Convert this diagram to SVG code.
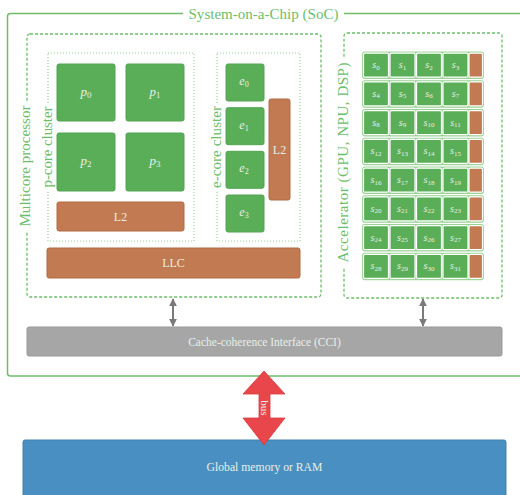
<svg xmlns="http://www.w3.org/2000/svg" width="520" height="495" viewBox="0 0 520 495" font-family="'Liberation Serif', 'DejaVu Serif', serif">
<style>
.lbl{font-family:"Liberation Serif","DejaVu Serif",serif;fill:#6cbd6a;font-size:15px}
.in{font-family:"Liberation Serif","DejaVu Serif",serif;fill:#e6efe6;text-anchor:middle}
.core{fill:#5bae58;stroke:#52a450;stroke-width:1}
.cache{fill:#c27a52;stroke:#b26a44;stroke-width:1}
.dash{fill:none;stroke:#6cbd6a;stroke-width:1.3;stroke-dasharray:3 2}
.dot{fill:none;stroke:#9ad497;stroke-width:1.2;stroke-dasharray:1 2}
.row{fill:#a3d69e;stroke:#8dcb88;stroke-width:0.8}
.cell{fill:#5bae58;stroke:#ffffff;stroke-width:1.2}
.ocell{fill:#c27a52;stroke:#ffffff;stroke-width:1.2}
.s{font-size:10px;font-style:italic}
.sub{font-size:7px;font-style:normal}
</style>
<defs>
<marker id="ah" viewBox="0 0 10 10" refX="9" refY="5" markerWidth="4" markerHeight="4" orient="auto-start-reverse" markerUnits="strokeWidth">
<path d="M0,0 L10,5 L0,10 z" fill="#7a7a7a"/>
</marker>
</defs>
<rect width="520" height="495" fill="#ffffff"/>

<g id="soc">
<rect x="7.5" y="13.5" width="540" height="362.5" rx="3" fill="none" stroke="#6cbd6a" stroke-width="1.5"/>
<rect x="183" y="5" width="161" height="18" fill="#ffffff"/>
<text class="lbl" x="263.5" y="18.5" text-anchor="middle" textLength="150">System-on-a-Chip (SoC)</text>
</g>

<g id="multicore">
<rect class="dash" x="27" y="34" width="294" height="263" rx="3"/>
<rect x="18" y="103" width="15" height="128" fill="#ffffff"/>
<text class="lbl" transform="translate(30,166) rotate(-90)" text-anchor="middle" textLength="121">Multicore processor</text>
</g>

<g id="pcluster">
<rect class="dot" x="48" y="53" width="146" height="188"/>
<rect x="40" y="103" width="15" height="89" fill="#ffffff"/>
<text class="lbl" transform="translate(52,147) rotate(-90)" text-anchor="middle" textLength="81">p-core cluster</text>
</g>
<g id="p0"><rect class="core" x="57" y="64" width="58" height="57" rx="2"/><text class="in" x="86" y="96" font-size="13" font-style="italic">p<tspan font-size="9" font-style="normal" dy="2">0</tspan></text></g>
<g id="p1"><rect class="core" x="126" y="64" width="58" height="57" rx="2"/><text class="in" x="155" y="96" font-size="13" font-style="italic">p<tspan font-size="9" font-style="normal" dy="2">1</tspan></text></g>
<g id="p2"><rect class="core" x="57" y="133" width="58" height="58" rx="2"/><text class="in" x="86" y="165" font-size="13" font-style="italic">p<tspan font-size="9" font-style="normal" dy="2">2</tspan></text></g>
<g id="p3"><rect class="core" x="126" y="133" width="58" height="58" rx="2"/><text class="in" x="155" y="165" font-size="13" font-style="italic">p<tspan font-size="9" font-style="normal" dy="2">3</tspan></text></g>
<g id="l2p"><rect class="cache" x="57" y="202" width="127" height="29" rx="2"/><text class="in" x="120.5" y="220.5" font-size="12">L2</text></g>

<g id="ecluster">
<rect class="dot" x="217" y="53" width="83" height="188"/>
<rect x="209" y="103" width="15" height="89" fill="#ffffff"/>
<text class="lbl" transform="translate(221,147) rotate(-90)" text-anchor="middle" textLength="82">e-core cluster</text>
</g>
<g id="e0"><rect class="core" x="226" y="64" width="38" height="37" rx="2"/><text class="in" x="244" y="85" font-size="12" font-style="italic">e<tspan font-size="8" font-style="normal" dy="2">0</tspan></text></g>
<g id="e1"><rect class="core" x="226" y="107.7" width="38" height="37" rx="2"/><text class="in" x="244" y="128.7" font-size="12" font-style="italic">e<tspan font-size="8" font-style="normal" dy="2">1</tspan></text></g>
<g id="e2"><rect class="core" x="226" y="151.3" width="38" height="37" rx="2"/><text class="in" x="244" y="172.3" font-size="12" font-style="italic">e<tspan font-size="8" font-style="normal" dy="2">2</tspan></text></g>
<g id="e3"><rect class="core" x="226" y="195" width="38" height="37" rx="2"/><text class="in" x="244" y="216" font-size="12" font-style="italic">e<tspan font-size="8" font-style="normal" dy="2">3</tspan></text></g>
<g id="l2e"><rect class="cache" x="269" y="99" width="21" height="101" rx="2"/><text class="in" x="279.5" y="154" font-size="12">L2</text></g>

<g id="llc"><rect class="cache" x="47" y="248" width="253" height="30" rx="2"/><text class="in" x="173.5" y="267" font-size="12">LLC</text></g>

<g id="accelerator">
<rect class="dash" x="344" y="33" width="158" height="265" rx="3"/>
<rect x="335" y="59" width="15" height="208" fill="#ffffff"/>
<text class="lbl" transform="translate(348,162.5) rotate(-90)" text-anchor="middle" textLength="200">Accelerator (GPU, NPU, DSP)</text>
</g>

<g id="row0"><rect class="row" x="362.5" y="52" width="121" height="26.5" rx="2"/>
<rect class="cell" x="363.5" y="53.2" width="25" height="24" rx="1.5"/><rect class="cell" x="390" y="53.2" width="25" height="24" rx="1.5"/><rect class="cell" x="416.5" y="53.2" width="25" height="24" rx="1.5"/><rect class="cell" x="443" y="53.2" width="25" height="24" rx="1.5"/><rect class="ocell" x="469" y="53.2" width="13.5" height="24" rx="1.5"/>
<text class="in s" x="376" y="68">s<tspan class="sub" dy="1.5">0</tspan></text><text class="in s" x="402.5" y="68">s<tspan class="sub" dy="1.5">1</tspan></text><text class="in s" x="429" y="68">s<tspan class="sub" dy="1.5">2</tspan></text><text class="in s" x="455.5" y="68">s<tspan class="sub" dy="1.5">3</tspan></text></g>

<g id="row1"><rect class="row" x="362.5" y="80.75" width="121" height="26.5" rx="2"/>
<rect class="cell" x="363.5" y="81.95" width="25" height="24" rx="1.5"/><rect class="cell" x="390" y="81.95" width="25" height="24" rx="1.5"/><rect class="cell" x="416.5" y="81.95" width="25" height="24" rx="1.5"/><rect class="cell" x="443" y="81.95" width="25" height="24" rx="1.5"/><rect class="ocell" x="469" y="81.95" width="13.5" height="24" rx="1.5"/>
<text class="in s" x="376" y="96.75">s<tspan class="sub" dy="1.5">4</tspan></text><text class="in s" x="402.5" y="96.75">s<tspan class="sub" dy="1.5">5</tspan></text><text class="in s" x="429" y="96.75">s<tspan class="sub" dy="1.5">6</tspan></text><text class="in s" x="455.5" y="96.75">s<tspan class="sub" dy="1.5">7</tspan></text></g>

<g id="row2"><rect class="row" x="362.5" y="109.5" width="121" height="26.5" rx="2"/>
<rect class="cell" x="363.5" y="110.7" width="25" height="24" rx="1.5"/><rect class="cell" x="390" y="110.7" width="25" height="24" rx="1.5"/><rect class="cell" x="416.5" y="110.7" width="25" height="24" rx="1.5"/><rect class="cell" x="443" y="110.7" width="25" height="24" rx="1.5"/><rect class="ocell" x="469" y="110.7" width="13.5" height="24" rx="1.5"/>
<text class="in s" x="376" y="125.5">s<tspan class="sub" dy="1.5">8</tspan></text><text class="in s" x="402.5" y="125.5">s<tspan class="sub" dy="1.5">9</tspan></text><text class="in s" x="429" y="125.5">s<tspan class="sub" dy="1.5">10</tspan></text><text class="in s" x="455.5" y="125.5">s<tspan class="sub" dy="1.5">11</tspan></text></g>

<g id="row3"><rect class="row" x="362.5" y="138.25" width="121" height="26.5" rx="2"/>
<rect class="cell" x="363.5" y="139.45" width="25" height="24" rx="1.5"/><rect class="cell" x="390" y="139.45" width="25" height="24" rx="1.5"/><rect class="cell" x="416.5" y="139.45" width="25" height="24" rx="1.5"/><rect class="cell" x="443" y="139.45" width="25" height="24" rx="1.5"/><rect class="ocell" x="469" y="139.45" width="13.5" height="24" rx="1.5"/>
<text class="in s" x="376" y="154.25">s<tspan class="sub" dy="1.5">12</tspan></text><text class="in s" x="402.5" y="154.25">s<tspan class="sub" dy="1.5">13</tspan></text><text class="in s" x="429" y="154.25">s<tspan class="sub" dy="1.5">14</tspan></text><text class="in s" x="455.5" y="154.25">s<tspan class="sub" dy="1.5">15</tspan></text></g>

<g id="row4"><rect class="row" x="362.5" y="167" width="121" height="26.5" rx="2"/>
<rect class="cell" x="363.5" y="168.2" width="25" height="24" rx="1.5"/><rect class="cell" x="390" y="168.2" width="25" height="24" rx="1.5"/><rect class="cell" x="416.5" y="168.2" width="25" height="24" rx="1.5"/><rect class="cell" x="443" y="168.2" width="25" height="24" rx="1.5"/><rect class="ocell" x="469" y="168.2" width="13.5" height="24" rx="1.5"/>
<text class="in s" x="376" y="183">s<tspan class="sub" dy="1.5">16</tspan></text><text class="in s" x="402.5" y="183">s<tspan class="sub" dy="1.5">17</tspan></text><text class="in s" x="429" y="183">s<tspan class="sub" dy="1.5">18</tspan></text><text class="in s" x="455.5" y="183">s<tspan class="sub" dy="1.5">19</tspan></text></g>

<g id="row5"><rect class="row" x="362.5" y="195.75" width="121" height="26.5" rx="2"/>
<rect class="cell" x="363.5" y="196.95" width="25" height="24" rx="1.5"/><rect class="cell" x="390" y="196.95" width="25" height="24" rx="1.5"/><rect class="cell" x="416.5" y="196.95" width="25" height="24" rx="1.5"/><rect class="cell" x="443" y="196.95" width="25" height="24" rx="1.5"/><rect class="ocell" x="469" y="196.95" width="13.5" height="24" rx="1.5"/>
<text class="in s" x="376" y="211.75">s<tspan class="sub" dy="1.5">20</tspan></text><text class="in s" x="402.5" y="211.75">s<tspan class="sub" dy="1.5">21</tspan></text><text class="in s" x="429" y="211.75">s<tspan class="sub" dy="1.5">22</tspan></text><text class="in s" x="455.5" y="211.75">s<tspan class="sub" dy="1.5">23</tspan></text></g>

<g id="row6"><rect class="row" x="362.5" y="224.5" width="121" height="26.5" rx="2"/>
<rect class="cell" x="363.5" y="225.7" width="25" height="24" rx="1.5"/><rect class="cell" x="390" y="225.7" width="25" height="24" rx="1.5"/><rect class="cell" x="416.5" y="225.7" width="25" height="24" rx="1.5"/><rect class="cell" x="443" y="225.7" width="25" height="24" rx="1.5"/><rect class="ocell" x="469" y="225.7" width="13.5" height="24" rx="1.5"/>
<text class="in s" x="376" y="240.5">s<tspan class="sub" dy="1.5">24</tspan></text><text class="in s" x="402.5" y="240.5">s<tspan class="sub" dy="1.5">25</tspan></text><text class="in s" x="429" y="240.5">s<tspan class="sub" dy="1.5">26</tspan></text><text class="in s" x="455.5" y="240.5">s<tspan class="sub" dy="1.5">27</tspan></text></g>

<g id="row7"><rect class="row" x="362.5" y="253.25" width="121" height="26.5" rx="2"/>
<rect class="cell" x="363.5" y="254.45" width="25" height="24" rx="1.5"/><rect class="cell" x="390" y="254.45" width="25" height="24" rx="1.5"/><rect class="cell" x="416.5" y="254.45" width="25" height="24" rx="1.5"/><rect class="cell" x="443" y="254.45" width="25" height="24" rx="1.5"/><rect class="ocell" x="469" y="254.45" width="13.5" height="24" rx="1.5"/>
<text class="in s" x="376" y="269.25">s<tspan class="sub" dy="1.5">28</tspan></text><text class="in s" x="402.5" y="269.25">s<tspan class="sub" dy="1.5">29</tspan></text><text class="in s" x="429" y="269.25">s<tspan class="sub" dy="1.5">30</tspan></text><text class="in s" x="455.5" y="269.25">s<tspan class="sub" dy="1.5">31</tspan></text></g>

<g id="cci"><rect x="27" y="327" width="475" height="29" rx="2" fill="#a6a6a6" stroke="#999999" stroke-width="1"/><text class="in" x="264.5" y="345.5" font-size="11.5">Cache-coherence Interface (CCI)</text></g>

<g id="ram"><rect x="23" y="440" width="483" height="70" rx="2" fill="#4a8fc1" stroke="#3f82b4" stroke-width="1"/><text class="in" x="264.5" y="471" font-size="11.7">Global memory or RAM</text></g>

<g id="connectors">
<line x1="173" y1="299" x2="173" y2="326" stroke="#7a7a7a" stroke-width="2" marker-start="url(#ah)" marker-end="url(#ah)"/>
<line x1="423" y1="299" x2="423" y2="326" stroke="#7a7a7a" stroke-width="2" marker-start="url(#ah)" marker-end="url(#ah)"/>
<polygon points="264,371 285,394 270,394 270,418 285,418 264,445 243,418 259,418 259,394 243,394" fill="#e8464a" stroke="#d63a3e" stroke-width="0.8"/>
<text class="in" transform="translate(261,408) rotate(90)" font-size="11">bus</text>
</g>
</svg>
